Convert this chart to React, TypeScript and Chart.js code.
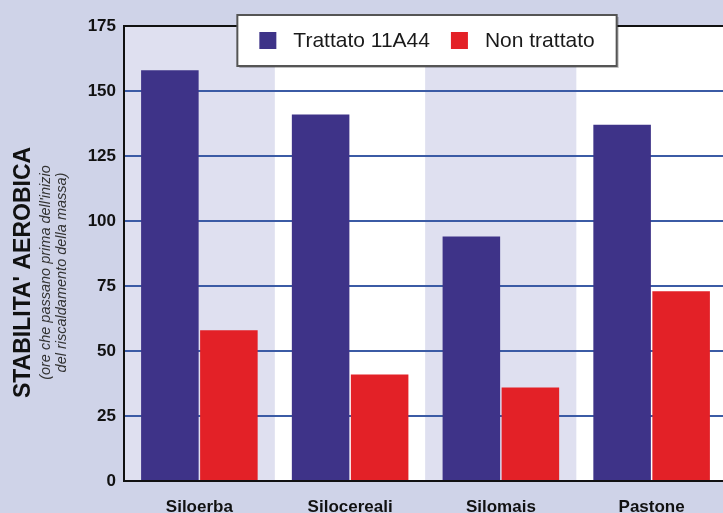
import React, { useEffect, useRef } from "react";
import { Chart, registerables } from "chart.js";

Chart.register(...registerables);

const categories = ["Siloerba", "Silocereali", "Silomais", "Pastone"];
const seriesNames = ["Trattato 11A44", "Non trattato"];
const treatedValues = [158, 141, 94, 137];
const untreatedValues = [58, 41, 36, 73];
const yTicks = [0, 25, 50, 75, 100, 125, 150, 175];
const yTitle = "STABILITA' AEROBICA";
const ySubtitle = ["(ore che passano prima dell'inizio", "del riscaldamento della massa)"];

const BG = "#cfd3e8";
const BAND = "#dfe0f0";
const PURPLE = "#3e3388";
const RED = "#e32127";
const GRID = "#3b5ba5";
const FONT = "'Liberation Sans', Arial, sans-serif";

const decorPlugin = {
  id: "decor",
  beforeDraw(chart: any) {
    const { ctx, chartArea, width, height } = chart;
    ctx.save();
    ctx.fillStyle = BG;
    ctx.fillRect(0, 0, width, height);
    const n = categories.length;
    const w = (chartArea.right - chartArea.left) / n;
    for (let i = 0; i < n; i++) {
      ctx.fillStyle = i % 2 === 0 ? BAND : "#ffffff";
      ctx.fillRect(chartArea.left + i * w, chartArea.top, w, chartArea.bottom - chartArea.top);
    }
    // axis titles
    const cy = (chartArea.top + chartArea.bottom) / 2 + 19;
    ctx.fillStyle = "#111";
    ctx.textAlign = "center";
    ctx.textBaseline = "middle";
    ctx.translate(23, cy);
    ctx.rotate(-Math.PI / 2);
    ctx.font = `bold 23px ${FONT}`;
    ctx.fillText(yTitle, 0, 1);
    ctx.fillStyle = "#333";
    ctx.font = `italic 14.5px ${FONT}`;
    ctx.fillText(ySubtitle[0], 0, 23);
    ctx.fillText(ySubtitle[1], 0, 39);
    ctx.restore();
  },
  afterDraw(chart: any) {
    const { ctx, chartArea } = chart;
    ctx.save();
    ctx.strokeStyle = "#111";
    ctx.lineWidth = 2;
    ctx.beginPath();
    ctx.moveTo(chartArea.left - 1, chartArea.top);
    ctx.lineTo(chartArea.right, chartArea.top);
    ctx.stroke();

    // legend
    ctx.font = `21px ${FONT}`;
    const colors = [PURPLE, RED];
    const sq = 17;
    const gapSq = 17;
    const gapItem = 21;
    const padX = 22;
    const widths = seriesNames.map((s) => ctx.measureText(s).width);
    let total = padX * 2;
    widths.forEach((tw, i) => {
      total += sq + gapSq + tw + (i < widths.length - 1 ? gapItem : 0);
    });
    const cx = 427;
    const bx = cx - total / 2;
    const by = 15;
    const bh = 51;
    ctx.fillStyle = "rgba(0,0,0,0.25)";
    ctx.fillRect(bx + 2, by + 2, total, bh);
    ctx.fillStyle = "#ffffff";
    ctx.fillRect(bx, by, total, bh);
    ctx.strokeStyle = "#555";
    ctx.lineWidth = 2;
    ctx.strokeRect(bx, by, total, bh);
    let xx = bx + padX;
    const my = by + bh / 2;
    seriesNames.forEach((s, i) => {
      ctx.fillStyle = colors[i];
      ctx.fillRect(xx, my - sq / 2, sq, sq);
      xx += sq + gapSq;
      ctx.fillStyle = "#1a1a1a";
      ctx.textAlign = "left";
      ctx.textBaseline = "middle";
      ctx.fillText(s, xx, my + 1);
      xx += widths[i] + gapItem;
    });
    ctx.restore();
  },
};

export default function App() {
  const ref = useRef<HTMLCanvasElement>(null);
  useEffect(() => {
    document.body.style.margin = "0";
    const chart = new Chart(ref.current!, {
      type: "bar",
      data: {
        labels: categories,
        datasets: [
          {
            label: seriesNames[0],
            data: treatedValues,
            backgroundColor: PURPLE,
            categoryPercentage: 0.783,
            barPercentage: 0.975,
          },
          {
            label: seriesNames[1],
            data: untreatedValues,
            backgroundColor: RED,
            categoryPercentage: 0.783,
            barPercentage: 0.975,
          },
        ],
      },
      options: {
        animation: false,
        responsive: false,
        devicePixelRatio: 1,
        layout: { padding: { top: 26, left: 0, right: 0, bottom: 0 } },
        plugins: { legend: { display: false }, tooltip: { enabled: false } },
        scales: {
          x: {
            grid: { display: false, drawTicks: false },
            border: { display: true, color: "#111", width: 2 },
            ticks: {
              color: "#111",
              font: { family: FONT, size: 17, weight: "bold" },
              padding: 16,
            },
            afterFit: (s: any) => {
              s.height = 32;
            },
          },
          y: {
            min: 0,
            max: 175,
            afterBuildTicks: (s: any) => {
              s.ticks = yTicks.map((v) => ({ value: v }));
            },
            grid: {
              drawTicks: false,
              color: (c: any) => (c.tick && (c.tick.value === 0 || c.tick.value === 175) ? "rgba(0,0,0,0)" : GRID),
              lineWidth: 2,
            },
            border: { display: true, color: "#111", width: 2 },
            ticks: {
              color: "#111",
              font: { family: FONT, size: 17, weight: "bold" },
              padding: 8,
            },
            afterFit: (s: any) => {
              s.width = 124;
            },
          },
        },
      },
      plugins: [decorPlugin],
    });
    return () => chart.destroy();
  }, []);
  return (
    <div style={{ position: "absolute", left: 0, top: 0, width: 723, height: 513, overflow: "hidden" }}>
      <canvas ref={ref} width={727} height={513} style={{ width: 727, height: 513, display: "block" }} />
    </div>
  );
}
